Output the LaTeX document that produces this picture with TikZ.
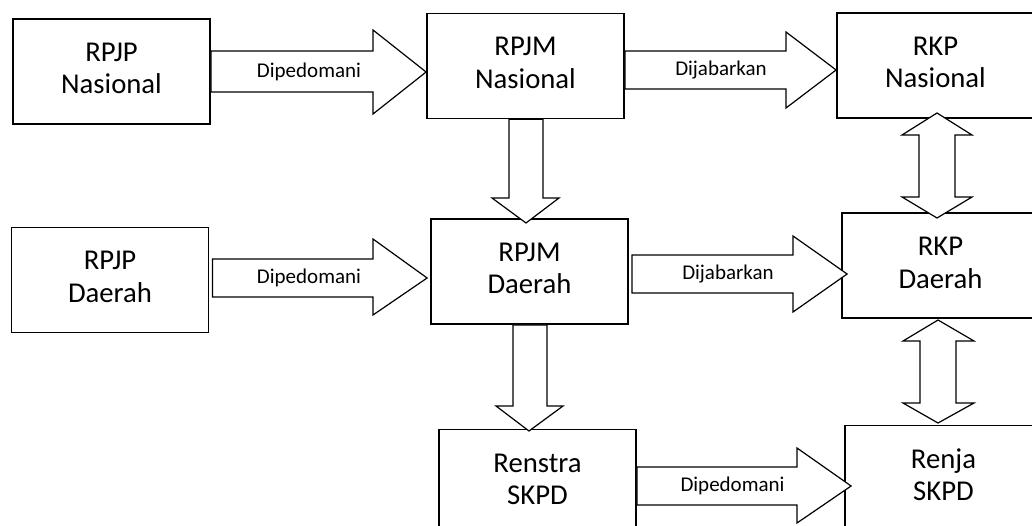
\documentclass[tikz,border=0pt]{standalone}
\usepackage{fontspec}
\setmainfont{Carlito}
\usetikzlibrary{calc}
\begin{document}
\begin{tikzpicture}[x=1pt,y=-1pt,
  box/.style={draw=black,line width=1.8pt,minimum width=197pt,minimum height=105pt,inner sep=0pt,fill=white},
  txt/.style={font=\fontsize{28.7}{33}\selectfont,inner sep=0pt,anchor=base},
  lbl/.style={font=\fontsize{21}{24}\selectfont,inner sep=0pt},
  blk/.style={draw=black,line width=1.2pt,fill=white,line join=miter}]
\useasboundingbox (0,0) rectangle (1032,526);
\clip (0,0) rectangle (1032,526);
\fill[white] (0,0) rectangle (1032,526);
% boxes
\node[box] (rpjpn) at (111.5,71.5) {};
\node[box] (rpjmn) at (525.5,66) {};
\node[box] (rkpn) at (935.5,65.5) {};
\node[box] (rpjpd) at (110,280) {};
\node[box] (rpjmd) at (529.5,271.5) {};
\node[box] (rkpd) at (940.5,265.5) {};
\node[box] (renstra) at (537.5,482) {};
\node[box] (renja) at (943.5,478) {};
% box texts
\node[txt] (t1a) at ($(rpjpn.center)+(0,-10)$) {RPJP};
\node[txt] (t1b) at ($(rpjpn.center)+(0,22.5)$) {Nasional};
\node[txt] (t2a) at ($(rpjmn.center)+(0,-10)$) {RPJM};
\node[txt] (t2b) at ($(rpjmn.center)+(0,22.5)$) {Nasional};
\node[txt] (t3a) at ($(rkpn.center)+(0,-10)$) {RKP};
\node[txt] (t3b) at ($(rkpn.center)+(0,22.5)$) {Nasional};
\node[txt] (t4a) at ($(rpjpd.center)+(0,-10)$) {RPJP};
\node[txt] (t4b) at ($(rpjpd.center)+(0,22.5)$) {Daerah};
\node[txt] (t5a) at ($(rpjmd.center)+(0,-10)$) {RPJM};
\node[txt] (t5b) at ($(rpjmd.center)+(0,22.5)$) {Daerah};
\node[txt] (t6a) at ($(rkpd.center)+(0,-10)$) {RKP};
\node[txt] (t6b) at ($(rkpd.center)+(0,22.5)$) {Daerah};
\node[txt] (t7a) at ($(renstra.center)+(0,-10)$) {Renstra};
\node[txt] (t7b) at ($(renstra.center)+(0,22.5)$) {SKPD};
\node[txt] (t8a) at ($(renja.center)+(0,-10)$) {Renja};
\node[txt] (t8b) at ($(renja.center)+(0,22.5)$) {SKPD};
% right block arrows
\draw[blk] (rpjpn.east |- 0,51) -- (373,51) -- (373,30) -- (rpjmn.west |- 0,72) -- (373,114) -- (373,92) -- (rpjpn.east |- 0,92) -- cycle;
\draw[blk] (rpjmn.east |- 0,51) -- (786,51) -- (786,32) -- (rkpn.west |- 0,70) -- (786,108) -- (786,89) -- (rpjmn.east |- 0,89) -- cycle;
\draw[blk] ([xshift=3pt]rpjpd.east |- 0,259) -- (373,259) -- (373,239) -- ([xshift=-3pt]rpjmd.west |- 0,278) -- (373,315) -- (373,297) -- ([xshift=3pt]rpjpd.east |- 0,297) -- cycle;
\draw[blk] ([xshift=3pt]rpjmd.east |- 0,255) -- (793,255) -- (793,236) -- ([xshift=6pt]rkpd.west |- 0,274) -- (793,312) -- (793,293) -- ([xshift=3pt]rpjmd.east |- 0,293) -- cycle;
\draw[blk] (renstra.east |- 0,467) -- (797,467) -- (797,448) -- ([xshift=7pt]renja.west |- 0,486) -- (797,523) -- (797,505) -- (renstra.east |- 0,505) -- cycle;
% labels
\node[lbl] (l1) at (309,71.5) {Dipedomani};
\node[lbl] (l2) at (721,70) {Dijabarkan};
\node[lbl] (l3) at (309,278) {Dipedomani};
\node[lbl] (l4) at (728,274) {Dijabarkan};
\node[lbl] (l5) at (732.5,486) {Dipedomani};
% down block arrows
\draw[blk] (509,0 |- rpjmn.south) -- (509,198) -- (492,198) -- (526,223) -- (559,198) -- (543,198) -- (543,0 |- rpjmn.south) -- cycle;
\draw[blk] (513,0 |- rpjmd.south) -- (513,406) -- (496,406) -- (529,431) -- (563,406) -- (547,406) -- (547,0 |- rpjmd.south) -- cycle;
% double block arrows
\draw[blk] (937,113) -- (972,135) -- (955,135) -- (955,197) -- (972,197) -- (937,218) -- (902,197) -- (919,197) -- (919,135) -- (902,135) -- cycle;
\draw[blk] (938,320) -- (974,341) -- (956,341) -- (956,403) -- (974,403) -- (938,423) -- (903,403) -- (920,403) -- (920,341) -- (903,341) -- cycle;
\end{tikzpicture}
\end{document}
